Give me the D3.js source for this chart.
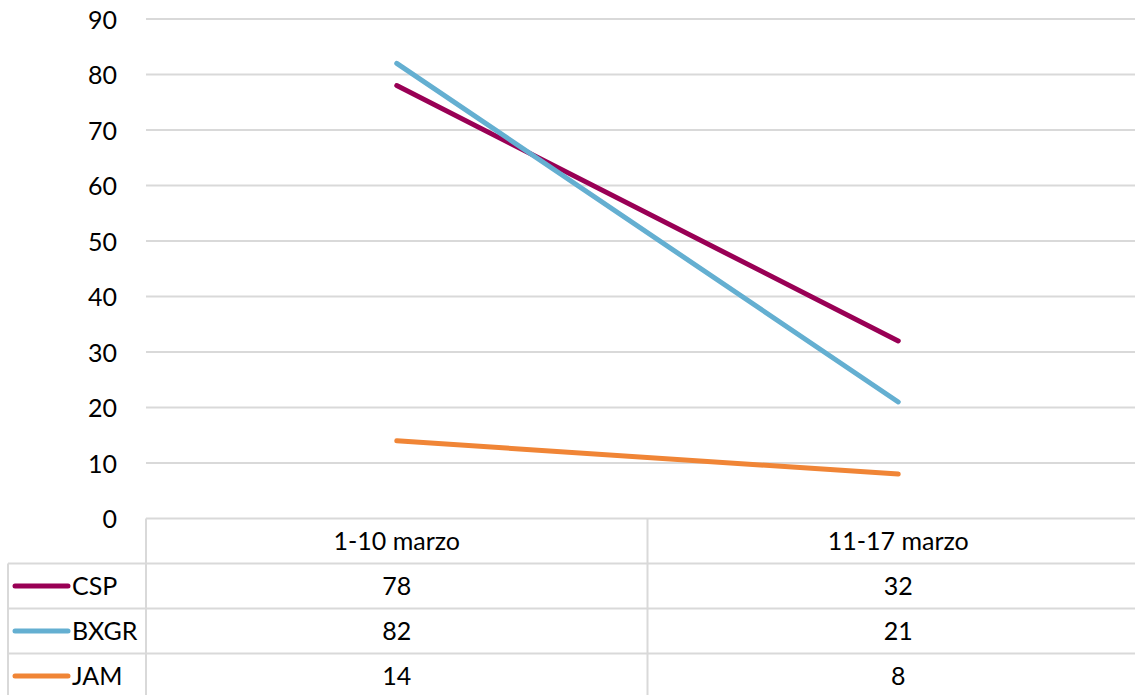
<!DOCTYPE html>
<html><head><meta charset="utf-8">
<script src="https://cdn.jsdelivr.net/npm/d3@7"></script>
<style>body{margin:0;background:#fff}svg{display:block}text{font-family:Lato,"Open Sans",sans-serif;fill:#000}</style>
</head><body><svg id="c" width="1135" height="695"></svg>
<script>
const categories = ["1-10 marzo", "11-17 marzo"];
const seriesNames = ["CSP", "BXGR", "JAM"];
const CSP = [78, 32];
const BXGR = [82, 21];
const JAM = [14, 8];
const yTicks = [0, 10, 20, 30, 40, 50, 60, 70, 80, 90];
const colors = ["#990055", "#64AFD1", "#F08536"];
const series = [CSP, BXGR, JAM];

(function(){
const svg = d3.select("#c");
const W = 1135, H = 695;
const pLeft = 146, pRight = 1149, pTop = 19, pBottom = 518.5;
const legendLeft = 8;
const rowH = 45;
const fs = 25;

const y = d3.scaleLinear().domain([0, 90]).range([pBottom, pTop]);
const x = d3.scaleBand().domain(categories).range([pLeft, pRight]);

const g = svg.append("g");
g.selectAll("line.grid").data(yTicks.filter(t => t > 0)).join("line")
  .attr("x1", pLeft).attr("x2", W).attr("y1", d => y(d)).attr("y2", d => y(d))
  .attr("stroke", "#d9d9d9").attr("stroke-width", 2);

const yAxis = d3.axisLeft(y).tickValues(yTicks).tickSize(0).tickPadding(29);
const ya = svg.append("g").attr("transform", `translate(${pLeft},0)`).call(yAxis);
ya.select(".domain").remove();
ya.selectAll("text").attr("font-size", fs).attr("font-family", "Lato").attr("fill", "#000").attr("dy", "0.36em");

const tl = svg.append("g").attr("stroke", "#d9d9d9").attr("stroke-width", 2);
tl.append("line").attr("x1", pLeft).attr("x2", W).attr("y1", pBottom).attr("y2", pBottom);
for (let i = 1; i <= 3; i++) {
  tl.append("line").attr("x1", legendLeft).attr("x2", W).attr("y1", pBottom + i * rowH).attr("y2", pBottom + i * rowH);
}
tl.append("line").attr("x1", legendLeft).attr("x2", legendLeft).attr("y1", pBottom + rowH).attr("y2", H);
categories.forEach(c => {
  tl.append("line").attr("x1", x(c)).attr("x2", x(c)).attr("y1", pBottom).attr("y2", H);
});

svg.selectAll("text.cat").data(categories).join("text").attr("class", "cat")
  .attr("x", d => x(d) + x.bandwidth() / 2)
  .attr("y", pBottom + rowH / 2).attr("dy", "0.36em").attr("text-anchor", "middle")
  .attr("font-size", fs).text(d => d);

series.forEach((vals, i) => {
  const cy = pBottom + (i + 1) * rowH + rowH / 2;
  svg.append("line").attr("x1", 15).attr("x2", 68).attr("y1", cy).attr("y2", cy)
    .attr("stroke", colors[i]).attr("stroke-width", 5).attr("stroke-linecap", "round");
  svg.append("text").attr("x", 72).attr("y", cy).attr("dy", "0.36em").attr("font-size", fs).text(seriesNames[i]);
  svg.selectAll(null).data(vals).join("text")
    .attr("x", (d, j) => x(categories[j]) + x.bandwidth() / 2)
    .attr("y", cy).attr("dy", "0.36em").attr("text-anchor", "middle").attr("font-size", fs).text(d => d);
});

const line = d3.line().x((d, j) => x(categories[j]) + x.bandwidth() / 2).y(d => y(d));
series.forEach((vals, i) => {
  svg.append("path").datum(vals).attr("d", line).attr("fill", "none")
    .attr("stroke", colors[i]).attr("stroke-width", 5).attr("stroke-linecap", "round");
});
})();
</script></body></html>
